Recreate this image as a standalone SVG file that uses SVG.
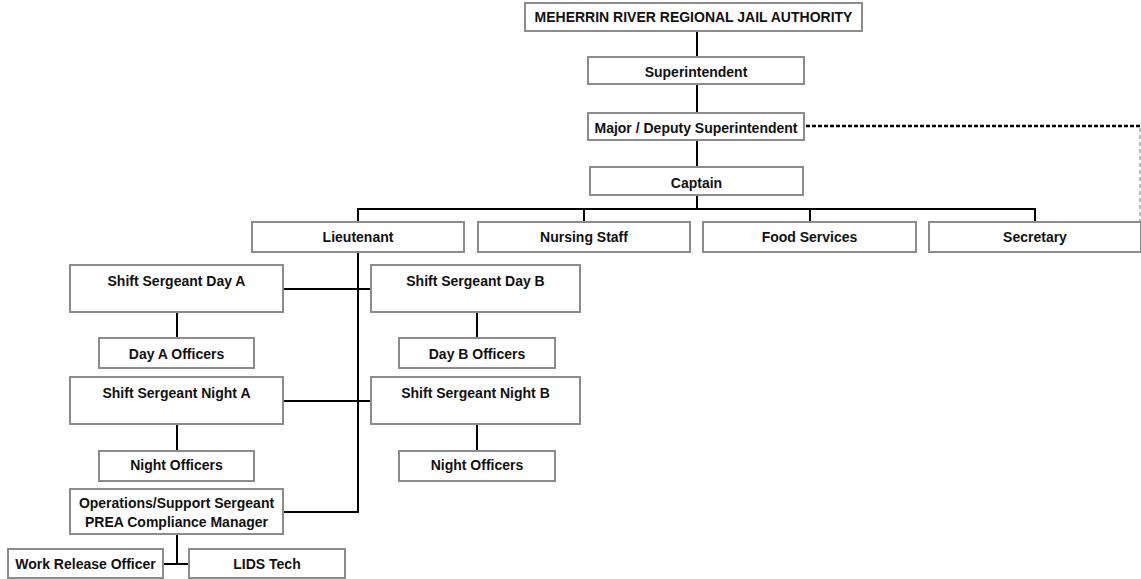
<svg xmlns="http://www.w3.org/2000/svg" width="1141" height="579" viewBox="0 0 1141 579">
<style>
.box{fill:#fff;stroke:#8c8c8c;stroke-width:2}
.t{font-family:"Liberation Sans",Arial,sans-serif;font-weight:bold;font-size:14px;fill:#111;text-anchor:middle}
.ln{stroke:#000;stroke-width:2;fill:none}
.dash{stroke:#000;stroke-width:2.5;fill:none;stroke-dasharray:4,2}
.dash2{stroke:#777;stroke-width:1;fill:none;stroke-dasharray:4,3}
</style>
<rect width="1141" height="579" fill="#fff"/>
<g id="connectors">
<line class="ln" x1="697" y1="31" x2="697" y2="57"/>
<line class="ln" x1="697" y1="84" x2="697" y2="113"/>
<line class="ln" x1="697" y1="140" x2="697" y2="167"/>
<line class="ln" x1="697" y1="195" x2="697" y2="209"/>
<polyline class="ln" points="358,222 358,209 1035,209 1035,222"/>
<line class="ln" x1="584" y1="209" x2="584" y2="222"/>
<line class="ln" x1="810" y1="209" x2="810" y2="222"/>
<polyline class="ln" points="358,252 358,512 283,512"/>
<line class="ln" x1="283" y1="289" x2="371" y2="289"/>
<line class="ln" x1="283" y1="401" x2="371" y2="401"/>
<line class="ln" x1="177" y1="312" x2="177" y2="338"/>
<line class="ln" x1="477" y1="312" x2="477" y2="338"/>
<line class="ln" x1="177" y1="424" x2="177" y2="451"/>
<line class="ln" x1="477" y1="424" x2="477" y2="451"/>
<line class="ln" x1="177" y1="534" x2="177" y2="564"/>
<line class="ln" x1="163" y1="564" x2="189" y2="564"/>
<line class="dash" x1="806" y1="126" x2="1141" y2="126"/>
<line class="dash2" x1="1140" y1="128" x2="1140" y2="222"/>
</g>
<g id="authority"><rect class="box" x="525" y="3" width="337" height="28"/><text class="t" x="693.5" y="22">MEHERRIN RIVER REGIONAL JAIL AUTHORITY</text></g>
<g id="superintendent"><rect class="box" x="588" y="57" width="216" height="27"/><text class="t" x="696" y="77">Superintendent</text></g>
<g id="major"><rect class="box" x="588" y="113" width="216" height="27"/><text class="t" x="696" y="133">Major / Deputy Superintendent</text></g>
<g id="captain"><rect class="box" x="590" y="167" width="213" height="28"/><text class="t" x="696.5" y="188">Captain</text></g>
<g id="lieutenant"><rect class="box" x="252" y="222" width="212" height="30"/><text class="t" x="358" y="242">Lieutenant</text></g>
<g id="nursing"><rect class="box" x="478" y="222" width="212" height="30"/><text class="t" x="584" y="242">Nursing Staff</text></g>
<g id="food"><rect class="box" x="703" y="222" width="213" height="30"/><text class="t" x="809.5" y="242">Food Services</text></g>
<g id="secretary"><rect class="box" x="929" y="222" width="212" height="30"/><text class="t" x="1035" y="242">Secretary</text></g>
<g id="sgt-day-a"><rect class="box" x="70" y="265" width="213" height="47"/><text class="t" x="176.5" y="286">Shift Sergeant Day A</text></g>
<g id="sgt-day-b"><rect class="box" x="371" y="265" width="209" height="47"/><text class="t" x="475.5" y="286">Shift Sergeant Day B</text></g>
<g id="day-a-officers"><rect class="box" x="99" y="338" width="155" height="30"/><text class="t" x="176.5" y="359">Day A Officers</text></g>
<g id="day-b-officers"><rect class="box" x="399" y="338" width="156" height="30"/><text class="t" x="477" y="359">Day B Officers</text></g>
<g id="sgt-night-a"><rect class="box" x="70" y="377" width="213" height="47"/><text class="t" x="176.5" y="398">Shift Sergeant Night A</text></g>
<g id="sgt-night-b"><rect class="box" x="371" y="377" width="209" height="47"/><text class="t" x="475.5" y="398">Shift Sergeant Night B</text></g>
<g id="night-a-officers"><rect class="box" x="99" y="451" width="155" height="30"/><text class="t" x="176.5" y="470">Night Officers</text></g>
<g id="night-b-officers"><rect class="box" x="399" y="451" width="156" height="30"/><text class="t" x="477" y="470">Night Officers</text></g>
<g id="operations"><rect class="box" x="70" y="489" width="213" height="45"/><text class="t" x="176.5" y="508">Operations/Support Sergeant</text><text class="t" x="176.5" y="527">PREA Compliance Manager</text></g>
<g id="work-release"><rect class="box" x="8" y="549" width="155" height="29"/><text class="t" x="85.5" y="569">Work Release Officer</text></g>
<g id="lids"><rect class="box" x="189" y="549" width="156" height="29"/><text class="t" x="267" y="569">LIDS Tech</text></g>
</svg>
